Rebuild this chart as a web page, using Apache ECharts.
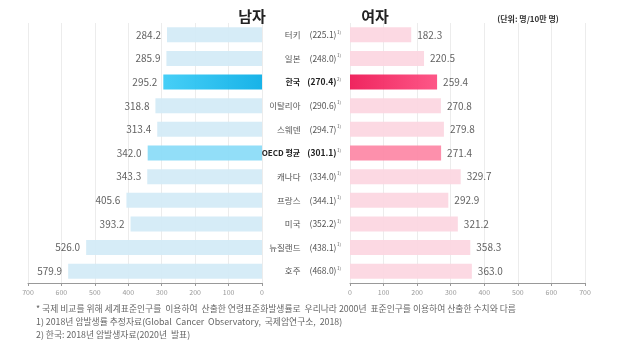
<!DOCTYPE html>
<html><head><meta charset="utf-8">
<script src="https://cdn.jsdelivr.net/npm/echarts@6/dist/echarts.min.js"></script>
<style>html,body{margin:0;padding:0;background:#fff}#c{width:634px;height:345px}</style>
</head><body><div id="c"></div>
<script>
const categories = ['터키','일본','한국','이탈리아','스웨덴','OECD 평균','캐나다','프랑스','미국','뉴질랜드','호주'];
const totals = ['225.1','248.0','270.4','290.6','294.7','301.1','334.0','344.1','352.2','438.1','468.0'];
const notes = ['1','1','2','1','1','1','1','1','1','1','1'];
const male = [284.2,285.9,295.2,318.8,313.4,342.0,343.3,405.6,393.2,526.0,579.9];
const female = [182.3,220.5,259.4,270.8,279.8,271.4,329.7,292.9,321.2,358.3,363.0];
const axisTicks = [0,100,200,300,400,500,600,700];
const footnotes = [
 '* 국제 비교를 위해 세계표준인구를  이용하여  산출한 연령표준화발생률로  우리나라 2000년  표준인구를 이용하여 산출한 수치와 다름',
 '1) 2018년 암발생률 추정자료(Global  Cancer  Observatory,  국제암연구소,  2018)',
 '2) 한국: 2018년 암발생자료(2020년  발표)'
];
const FONT = '"Noto Sans CJK KR", "Noto Sans", sans-serif';

const hi = {'한국':'kr','OECD 평균':'oecd'};
function maleColor(n){
  if (hi[n]==='kr') return new echarts.graphic.LinearGradient(0,0,1,0,[{offset:0,color:'#38cbf6'},{offset:1,color:'#07ade6'}]);
  if (hi[n]==='oecd') return '#8adbf8';
  return '#d3ebf6';
}
function femaleColor(n){
  if (hi[n]==='kr') return new echarts.graphic.LinearGradient(0,0,1,0,[{offset:0,color:'#ee1553'},{offset:1,color:'#fd4a7e'}]);
  if (hi[n]==='oecd') return '#fd88a6';
  return '#fcd6e1';
}

const chart = echarts.init(document.getElementById('c'));
const axisCommon = {
  type:'value', min:0, max:700, interval:100,
  axisLine:{show:true,lineStyle:{color:'#999',width:1}},
  axisTick:{show:true,length:3,lineStyle:{color:'#999'}},
  axisLabel:{fontSize:7,color:'#999',fontFamily:FONT,margin:6,formatter:v=>axisTicks.includes(v)?String(v):''},
  splitLine:{show:true,lineStyle:{color:'#ececec',width:1}}
};
chart.setOption({
  animation:false,
  textStyle:{fontFamily:FONT},
  title:[
    {text:'남자',left:247,top:4,textAlign:'center',textStyle:{fontSize:15,fontWeight:'bold',color:'#222',fontFamily:FONT}},
    {text:'여자',left:370,top:4,textAlign:'center',textStyle:{fontSize:15,fontWeight:'bold',color:'#222',fontFamily:FONT}},
    {text:'(단위: 명/10만 명)',left:523,top:10,textAlign:'center',textStyle:{fontSize:8,fontWeight:'bold',color:'#333',fontFamily:FONT}}
  ],
  grid:[
    {left:28,width:234,top:23,height:260},
    {left:350,width:235,top:23,height:260}
  ],
  xAxis:[
    Object.assign({gridIndex:0,inverse:true},axisCommon),
    Object.assign({gridIndex:1},axisCommon)
  ],
  yAxis:[
    {type:'category',gridIndex:0,data:categories,inverse:true,axisLine:{show:false},axisTick:{show:false},axisLabel:{show:false}},
    {type:'category',gridIndex:1,data:categories,inverse:true,axisLine:{show:false},axisTick:{show:false},
     axisLabel:{margin:9,fontFamily:FONT,formatter:(v,i)=>{
        const b = hi[v] ? 'B' : '';
        return '{n'+b+'|'+v+'}{v'+b+'|('+totals[i]+')}{s|'+notes[i]+')}';
      },
      rich:{
        n:{fontSize:8.5,color:'#555',fontFamily:FONT,padding:[0,9,0,0]},
        nB:{fontSize:8,color:'#222',fontWeight:'bold',fontFamily:FONT,padding:[0,7,0,0],letterSpacing:-0.7},
        v:{fontSize:8.5,color:'#555',fontFamily:FONT,letterSpacing:-0.9},
        vB:{fontSize:8.5,color:'#222',fontWeight:'bold',fontFamily:FONT,letterSpacing:-1},
        s:{fontSize:4.5,color:'#555',fontFamily:FONT,padding:[0,0,6,0.5]}
      }}}
  ],
  series:[
    {type:'bar',xAxisIndex:0,yAxisIndex:0,barWidth:15,
     data:male.map((v,i)=>({value:v,itemStyle:{color:maleColor(categories[i]),opacity:0.93}})),
     label:{show:true,position:'left',distance:6,fontSize:10,color:'#555',fontFamily:FONT,formatter:p=>p.value.toFixed(1)}},
    {type:'bar',xAxisIndex:1,yAxisIndex:1,barWidth:15,
     data:female.map((v,i)=>({value:v,itemStyle:{color:femaleColor(categories[i]),opacity:0.93}})),
     label:{show:true,position:'right',distance:6,fontSize:10,color:'#555',fontFamily:FONT,formatter:p=>p.value.toFixed(1)}}
  ],
  graphic:footnotes.map((t,i)=>({type:'text',left:36,top:304+i*13,style:{text:t,fontSize:8.8,fill:'#666',fontFamily:FONT}}))
});
</script></body></html>
